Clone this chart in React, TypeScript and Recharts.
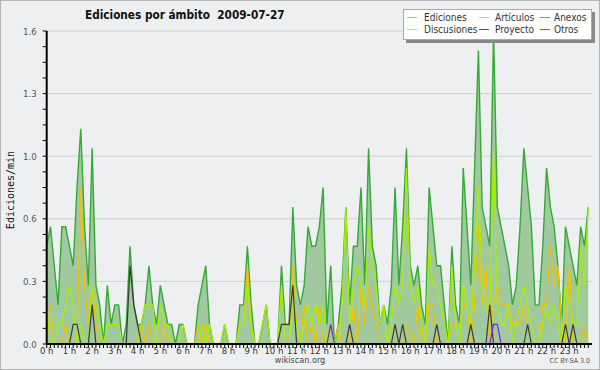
import {
  Area,
  CartesianGrid,
  ComposedChart,
  Line,
  XAxis,
  YAxis,
} from "recharts";

// edits per minute, one value per 10-minute slot (00:00 .. 23:50)
const ediciones = [
  0.5, 0.6, 0.4, 0.2, 0.6, 0.6, 0.5, 0.4, 0.8, 1.1,
  0.6, 0.3, 1.0, 0.3, 0.2, 0, 0.3, 0.1, 0.2, 0.2,
  0, 0.1, 0.5, 0.2, 0.1, 0.1, 0.2, 0.4, 0.2, 0.1,
  0.3, 0.2, 0.1, 0.1, 0, 0.1, 0.1, 0, 0, 0,
  0.2, 0.3, 0.4, 0.1, 0, 0, 0, 0.1, 0, 0,
  0, 0.2, 0.2, 0.5, 0.2, 0, 0, 0.1, 0.2, 0,
  0, 0, 0.4, 0.1, 0.1, 0.7, 0.3, 0.2, 0.3, 0.6,
  0.5, 0.5, 0.6, 0.8, 0.1, 0.4, 0, 0.1, 0.3, 0.7,
  0.2, 0.5, 0.5, 0.8, 0.3, 1.0, 0.5, 0.4, 0.1, 0.2,
  0.1, 0.3, 0.8, 0.3, 0.6, 1.0, 0.4, 0.3, 0.4, 0.2,
  0.1, 0.8, 0.6, 0.4, 0.4, 0.2, 0, 0.5, 0.2, 0.1,
  0.9, 0.6, 0.3, 0.9, 1.5, 0.7, 0.6, 0.5, 1.6, 0.7,
  0.6, 0.5, 0.4, 0.2, 0.3, 0.6, 1.0, 0.8, 0.6, 0.2,
  0.2, 0.5, 0.9, 0.7, 0.6, 0.4, 0.1, 0.6, 0.5, 0.4,
  0.3, 0.6, 0.5, 0.7,
];

const articulos = [
  0.2, 0, 0, 0.1, 0.1, 0.2, 0.3, 0.2, 0, 0.1,
  0, 0, 0.3, 0.2, 0.1, 0, 0.1, 0.1, 0.1, 0.1,
  0, 0, 0, 0, 0, 0.1, 0.2, 0.2, 0.2, 0,
  0.2, 0.1, 0.1, 0, 0, 0, 0.1, 0, 0, 0,
  0, 0.1, 0, 0.1, 0, 0, 0, 0.1, 0, 0,
  0, 0.1, 0.1, 0.3, 0.1, 0, 0, 0.1, 0.2, 0,
  0, 0, 0.3, 0, 0, 0.2, 0.1, 0, 0.1, 0.2,
  0.1, 0.2, 0.1, 0.2, 0, 0.1, 0, 0, 0.2, 0.7,
  0.1, 0.3, 0.4, 0.3, 0.2, 0.6, 0.4, 0.3, 0.1, 0.2,
  0, 0.1, 0.3, 0.2, 0.3, 0.9, 0.3, 0.2, 0.3, 0.1,
  0, 0.5, 0.3, 0.3, 0.2, 0.1, 0, 0.4, 0.1, 0,
  0.3, 0.2, 0.1, 0.4, 0.8, 0.3, 0.2, 0.1, 1.0, 0.2,
  0.1, 0.1, 0.2, 0, 0.1, 0.2, 0.3, 0.2, 0.1, 0,
  0, 0.1, 0.2, 0.1, 0.2, 0.1, 0, 0.3, 0.2, 0.1,
  0.1, 0.5, 0.3, 0.7,
];

const anexos = new Array(144).fill(0);

const discusiones = [
  0, 0.2, 0, 0, 0, 0.1, 0, 0, 0, 0.8,
  0.3, 0.1, 0.3, 0.1, 0, 0, 0, 0, 0, 0,
  0, 0, 0, 0, 0, 0.1, 0, 0.1, 0, 0,
  0, 0.1, 0, 0, 0, 0, 0, 0, 0, 0,
  0.1, 0, 0.1, 0, 0, 0, 0, 0, 0, 0,
  0, 0.1, 0.1, 0.4, 0.1, 0, 0, 0, 0, 0,
  0, 0, 0, 0, 0, 0.4, 0.1, 0, 0.2, 0,
  0.1, 0, 0.2, 0, 0, 0.1, 0, 0.1, 0, 0,
  0, 0.2, 0, 0.3, 0.1, 0.3, 0.2, 0.1, 0, 0,
  0, 0, 0.1, 0, 0, 0.1, 0, 0, 0.2, 0,
  0, 0.2, 0.2, 0, 0, 0, 0, 0.1, 0.1, 0.1,
  0.2, 0.2, 0, 0.2, 0.6, 0.2, 0.4, 0, 0.2, 0.3,
  0.2, 0.2, 0.2, 0.1, 0.1, 0.1, 0.2, 0.1, 0, 0,
  0, 0.2, 0.2, 0.5, 0.3, 0.4, 0.1, 0, 0.4, 0,
  0, 0, 0.1, 0,
];

const proyecto = [
  0, 0, 0, 0, 0, 0, 0, 0.1, 0.1, 0,
  0, 0, 0.2, 0, 0, 0, 0, 0, 0, 0,
  0, 0, 0.4, 0.2, 0.1, 0, 0, 0, 0, 0,
  0, 0, 0, 0, 0, 0, 0, 0, 0, 0,
  0, 0, 0, 0, 0, 0, 0, 0, 0, 0,
  0, 0, 0, 0, 0, 0, 0, 0, 0, 0,
  0, 0, 0.1, 0.1, 0.1, 0.3, 0, 0, 0, 0,
  0, 0, 0, 0, 0, 0, 0, 0, 0, 0,
  0.1, 0, 0, 0, 0, 0, 0, 0, 0, 0,
  0, 0, 0.1, 0, 0.1, 0, 0, 0, 0, 0,
  0, 0, 0, 0.1, 0, 0, 0, 0, 0, 0,
  0, 0, 0.1, 0, 0, 0, 0, 0.2, 0, 0,
  0, 0, 0, 0, 0, 0, 0, 0.1, 0, 0,
  0, 0, 0, 0, 0, 0, 0, 0.1, 0, 0.1,
  0, 0, 0, 0,
];

const otros = [
  0, 0, 0, 0, 0, 0, 0, 0, 0, 0,
  0, 0, 0, 0, 0, 0, 0, 0, 0, 0,
  0, 0, 0, 0, 0, 0, 0, 0, 0, 0,
  0, 0, 0, 0, 0, 0, 0, 0, 0, 0,
  0, 0, 0, 0, 0, 0, 0, 0, 0, 0,
  0, 0, 0, 0, 0, 0, 0, 0, 0, 0,
  0, 0, 0, 0, 0, 0, 0, 0, 0, 0,
  0, 0, 0, 0, 0, 0.1, 0, 0, 0, 0,
  0, 0, 0, 0, 0, 0, 0, 0, 0, 0,
  0, 0, 0, 0, 0, 0, 0, 0, 0, 0,
  0, 0, 0, 0, 0, 0, 0, 0, 0, 0,
  0, 0, 0, 0, 0, 0, 0, 0, 0.1, 0.1,
  0, 0, 0, 0, 0, 0, 0, 0, 0, 0,
  0, 0, 0, 0, 0, 0, 0, 0, 0, 0,
  0, 0, 0, 0,
];

const yTicks = [
  0, 0.08, 0.16, 0.24, 0.32, 0.4, 0.48, 0.56, 0.64, 0.72, 0.8,
  0.88, 0.96, 1.04, 1.12, 1.2, 1.28, 1.36, 1.44, 1.52, 1.6,
];
const yMajor = [0, 0.32, 0.64, 0.96, 1.28, 1.6];
const xTicks = Array.from({ length: 144 }, (_, i) => i * 10);

const data = ediciones.map((v, i) => ({
  minute: i * 10,
  ediciones: v,
  articulos: articulos[i],
  anexos: anexos[i],
  discusiones: discusiones[i],
  proyecto: proyecto[i],
  otros: otros[i],
}));

const legendItems = [
  { name: "Ediciones", color: "#8fd08f" },
  { name: "Artículos", color: "#b4ee1e" },
  { name: "Anexos", color: "#f07040" },
  { name: "Discusiones", color: "#f5cc30" },
  { name: "Proyecto", color: "#555555" },
  { name: "Otros", color: "#9040e8" },
];

const cond = '"DejaVu Sans Condensed", "Liberation Sans Narrow", "DejaVu Sans", sans-serif';

function YTick(props: any) {
  const { x, y, payload } = props;
  const major = yMajor.some((m) => Math.abs(m - payload.value) < 1e-6);
  if (!major) return <g />;
  return (
    <text x={x} y={y} dy={3.5} textAnchor="end" fontSize={9.5} fill="#555" fontFamily={cond}>
      {payload.value.toFixed(1)}
    </text>
  );
}

function XTick(props: any) {
  const { x, y, payload } = props;
  if (payload.value % 60 !== 0) return <g />;
  return (
    <text x={x} y={y} dy={4} textAnchor="middle" fontSize={9.5} fill="#333" fontFamily={cond}>
      {`${payload.value / 60} h`}
    </text>
  );
}

export default function App() {
  return (
    <div style={{ position: "relative", width: 600, height: 370, background: "#eeeff1" }}>
      <style>{`body{margin:0}`}</style>
      <ComposedChart
        width={600}
        height={370}
        data={data}
        margin={{ top: 31, right: 8, left: 0, bottom: 0 }}
      >
        <CartesianGrid vertical={false} horizontalValues={yMajor} stroke="#cfd0d2" strokeWidth={1} />
        <Area
          type="linear"
          dataKey="ediciones"
          fill="#a0c9a0"
          fillOpacity={1}
          stroke="#36aa36"
          strokeWidth={1.4}
          isAnimationActive={false}
        />
        <Line type="linear" dataKey="anexos" stroke="#f07040" strokeWidth={1} dot={false} isAnimationActive={false} />
        <Line type="linear" dataKey="discusiones" stroke="#f2c200" strokeWidth={1.2} dot={false} isAnimationActive={false} />
        <Line type="linear" dataKey="articulos" stroke="#aaee00" strokeWidth={1.2} dot={false} isAnimationActive={false} />
        <Line type="linear" dataKey="proyecto" stroke="#3a3a3a" strokeWidth={1.2} dot={false} isAnimationActive={false} />
        <Line type="linear" dataKey="otros" stroke="#7a1fe0" strokeWidth={1.2} dot={false} isAnimationActive={false} />
        <XAxis
          type="number"
          dataKey="minute"
          domain={[0, 1440]}
          ticks={xTicks}
          interval={0}
          height={26}
          tickSize={4}
          tickMargin={2}
          axisLine={{ stroke: "#000", strokeWidth: 2 }}
          tickLine={{ stroke: "#000" }}
          tick={<XTick />}
        />
        <YAxis
          domain={[0, 1.6]}
          ticks={yTicks}
          interval={0}
          width={46.7}
          tickSize={4}
          tickMargin={6}
          axisLine={{ stroke: "#000", strokeWidth: 2 }}
          tickLine={{ stroke: "#000" }}
          tick={<YTick />}
        />
      </ComposedChart>

      <div
        style={{
          position: "absolute",
          left: 85,
          top: 8,
          fontFamily: cond,
          fontWeight: "bold",
          fontSize: 11.7,
          color: "#111",
          whiteSpace: "pre",
        }}
      >
        {"Ediciones por ámbito  2009-07-27"}
      </div>

      <div
        style={{
          position: "absolute",
          left: 0,
          top: 190,
          width: 20,
          height: 0,
        }}
      >
        <div
          style={{
            position: "absolute",
            left: 10,
            top: 0,
            transform: "translate(-50%, -50%) rotate(-90deg)",
            fontFamily: '"DejaVu Sans Mono", monospace',
            fontSize: 10,
            color: "#111",
            whiteSpace: "nowrap",
          }}
        >
          Ediciones/min
        </div>
      </div>

      <div
        style={{
          position: "absolute",
          left: 403,
          top: 9,
          width: 187,
          height: 29,
          background: "#fff",
          border: "1px solid #aaa",
          boxShadow: "3px 3px 0 #888",
          fontFamily: cond,
          fontSize: 10,
          color: "#333",
        }}
      >
        {legendItems.map((it, i) => {
          const col = i % 3;
          const row = Math.floor(i / 3);
          const lx = [3, 75, 136][col];
          const tx = [20, 91, 150][col];
          return (
            <div key={it.name}>
              <div
                style={{
                  position: "absolute",
                  left: lx,
                  top: 7 + row * 12,
                  width: 10,
                  height: 1,
                  background: it.color,
                }}
              />
              <div style={{ position: "absolute", left: tx, top: 1 + row * 12, lineHeight: "13px" }}>
                {it.name}
              </div>
            </div>
          );
        })}
      </div>

      <div
        style={{
          position: "absolute",
          left: 0,
          width: 600,
          top: 355,
          textAlign: "center",
          fontFamily: cond,
          fontSize: 9,
          color: "#444",
        }}
      >
        wikiscan.org
      </div>
      <div
        style={{
          position: "absolute",
          right: 10,
          top: 357,
          fontFamily: cond,
          fontSize: 7,
          color: "#555",
        }}
      >
        CC BY-SA 3.0
      </div>
      <div
        style={{
          position: "absolute",
          inset: 0,
          border: "1px solid #b5b5b5",
          pointerEvents: "none",
        }}
      />
    </div>
  );
}
